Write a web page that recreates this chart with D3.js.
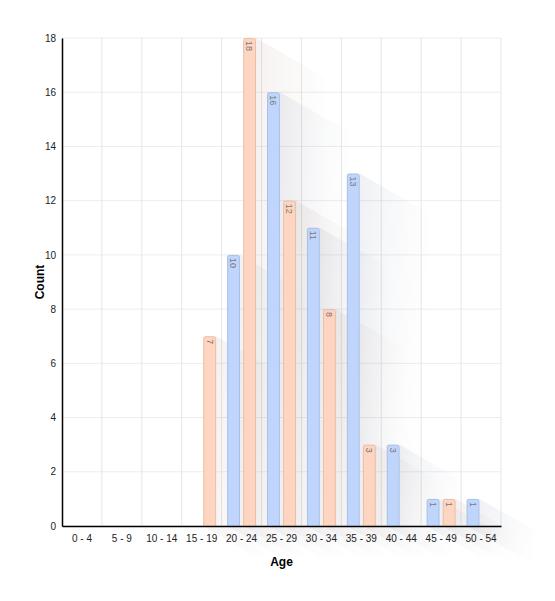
<!DOCTYPE html>
<html>
<head>
<meta charset="utf-8">
<script src="https://cdn.jsdelivr.net/npm/d3@7"></script>
<style>
  body { margin: 0; background: #fff; font-family: "Liberation Sans", Arial, sans-serif; }
</style>
</head>
<body>
<div id="chart"></div>
<script>
// Chart data
const ageGroups = ["0 - 4", "5 - 9", "10 - 14", "15 - 19", "20 - 24", "25 - 29", "30 - 34", "35 - 39", "40 - 44", "45 - 49", "50 - 54"];
const seriesNames = ["blue", "peach"];
const blueCounts = [0, 0, 0, 0, 10, 16, 11, 13, 3, 1, 1];
const peachCounts = [0, 0, 0, 7, 18, 12, 8, 3, 0, 1, 0];
const yTicks = [0, 2, 4, 6, 8, 10, 12, 14, 16, 18];

const colors = { blue: "#bfd5fc", peach: "#fdd5c0" };
const strokes = { blue: "#a9c0e8", peach: "#ebbfa8" };
const shadowTint = { blue: "#6f7f9c", peach: "#a08272" };

const width = 555, height = 601;
const margin = { top: 38, right: 54, bottom: 75, left: 62 };
const plotW = width - margin.left - margin.right;
const plotH = height - margin.top - margin.bottom;

const svg = d3.select("#chart").append("svg")
    .attr("width", width)
    .attr("height", height);

// fading gradient for the long shadows
const defs = svg.append("defs");
seriesNames.forEach(s => {
    const g = defs.append("linearGradient")
        .attr("id", "shadow-" + s)
        .attr("x1", 0).attr("y1", 0).attr("x2", 1).attr("y2", 0.3);
    g.append("stop").attr("offset", "0%").attr("stop-color", shadowTint[s]).attr("stop-opacity", 0.13);
    g.append("stop").attr("offset", "45%").attr("stop-color", shadowTint[s]).attr("stop-opacity", 0.06);
    g.append("stop").attr("offset", "100%").attr("stop-color", shadowTint[s]).attr("stop-opacity", 0);
});

const g = svg.append("g").attr("transform", `translate(${margin.left},${margin.top})`);

const x = d3.scaleBand().domain(ageGroups).range([0, plotW]);
const xSub = d3.scaleBand().domain(seriesNames).range([5.5, x.bandwidth() - 5.5]).paddingInner(0.2);
const y = d3.scaleLinear().domain([0, 18]).range([plotH, 0]);

// grid
g.append("g").selectAll("line").data(yTicks).join("line")
    .attr("x1", 0).attr("x2", plotW)
    .attr("y1", d => y(d)).attr("y2", d => y(d))
    .attr("stroke", "#ececec");
g.append("g").selectAll("line").data(ageGroups.slice(1).concat(["end"])).join("line")
    .attr("x1", (d, i) => x.step() * (i + 1)).attr("x2", (d, i) => x.step() * (i + 1))
    .attr("y1", 0).attr("y2", plotH)
    .attr("stroke", "#e6e6e6");

// flatten values into bar records
const bars = [];
ageGroups.forEach((a, i) => {
    bars.push({ age: a, series: "blue", value: blueCounts[i] });
    bars.push({ age: a, series: "peach", value: peachCounts[i] });
});
const shown = bars.filter(d => d.value > 0);

// long shadows
const sdx = 70, sdy = 40;
g.append("g").selectAll("path").data(shown).join("path")
    .attr("d", d => {
        const x0 = x(d.age) + xSub(d.series), x1 = x0 + xSub.bandwidth();
        const t = y(d.value), b = y(0);
        return `M${x0},${t}L${x1},${t}L${x1 + sdx},${t + sdy}L${x1 + sdx},${b + sdy}L${x0 + sdx},${b + sdy}L${x0},${b}Z`;
    })
    .attr("fill", d => `url(#shadow-${d.series})`);

// bars
g.append("g").selectAll("path").data(shown).join("path")
    .attr("d", d => {
        const x0 = x(d.age) + xSub(d.series) + 0.5, w = xSub.bandwidth() - 1;
        const t = y(d.value) + 0.5, b = y(0), r = 2;
        return `M${x0},${b}V${t + r}Q${x0},${t} ${x0 + r},${t}H${x0 + w - r}Q${x0 + w},${t} ${x0 + w},${t + r}V${b}`;
    })
    .attr("fill", d => colors[d.series])
    .attr("stroke", d => strokes[d.series])
    .attr("stroke-width", 1);

// value labels, rotated
g.append("g").selectAll("text").data(shown).join("text")
    .attr("transform", d => `translate(${x(d.age) + xSub(d.series) + xSub.bandwidth() / 2},${y(d.value) + 3}) rotate(90)`)
    .attr("dy", "0.35em")
    .attr("font-size", "9px")
    .attr("fill", "#777")
    .text(d => d.value);

// axes
const yAxis = g.append("g").call(d3.axisLeft(y).tickValues(yTicks).tickSize(0).tickPadding(6));
const xAxis = g.append("g").attr("transform", `translate(0,${plotH})`)
    .call(d3.axisBottom(x).tickSize(0).tickPadding(9));
[yAxis, xAxis].forEach(a => {
    a.select(".domain").attr("stroke", "#000").attr("stroke-width", 1.5);
    a.selectAll("text").attr("font-size", "10px").attr("fill", "#222")
        .attr("font-family", "Liberation Sans, Arial, sans-serif");
});

// axis titles
svg.append("text")
    .attr("transform", `translate(44,${margin.top + plotH / 2}) rotate(-90)`)
    .attr("text-anchor", "middle")
    .attr("font-size", "12px").attr("font-weight", "bold")
    .text("Count");
svg.append("text")
    .attr("x", margin.left + plotW / 2).attr("y", 566)
    .attr("text-anchor", "middle")
    .attr("font-size", "12px").attr("font-weight", "bold")
    .text("Age");
</script>
</body>
</html>
